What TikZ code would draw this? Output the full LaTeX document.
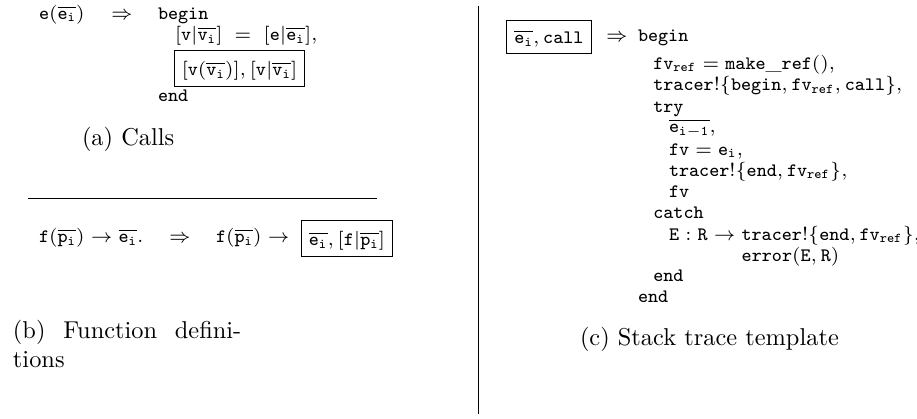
\documentclass[tikz,border=0pt]{standalone}
\tikzset{
  x=0.369pt,y=-0.369pt,
  code/.style={anchor=base west,inner sep=0pt,outer sep=0pt,font=\fontsize{7}{8}\selectfont},
  capt/.style={anchor=base west,inner sep=0pt,outer sep=0pt,font=\fontsize{10}{12}\selectfont},
  boxed/.style={draw,line width=0.37pt,inner sep=0pt,outer sep=0pt,font=\fontsize{7}{8}\selectfont,text depth=0pt},
  rulel/.style={line width=0.37pt}
}
\newcommand{\ov}[1]{\overline{\mathtt{#1}_{\mathtt{i}}}}
\newcommand{\capscale}[1]{\scalebox{0.9}{#1}}
\begin{document}
\begin{tikzpicture}
\useasboundingbox (0,0) rectangle (917,418);
% (a)
\node[code] (a1) at (39,19) {$\mathtt{e}(\ov{e})$};
\node[code] (a2) at (111,19) {$\Rightarrow$};
\node[code] (a3) at (158,19) {$\mathtt{begin}$};
\node[code] (a4) at (175,40.5) {$[\mathtt{v}|\ov{v}]\;=\;[\mathtt{e}|\ov{e}],$};
\node[boxed,minimum width=47.97pt,minimum height=13.28pt] (a5) at (239.5,68.5) {$[\mathtt{v}(\ov{v})],[\mathtt{v}|\ov{v}]$};
\node[code] (a6) at (158,101.5) {$\mathtt{end}$};
\node[capt] (a7) at (82,145) {\capscale{(a) Calls}};
\node[inner sep=0pt] (r1) at (26,198.5) {};
\node[inner sep=0pt] (r2) at (379,198.5) {};
\draw[rulel] (r1) -- (r2);
% (b)
\node[code] (b1) at (39,242.7) {$\mathtt{f}(\ov{p})\rightarrow\ov{e}.$};
\node[code] (b2) at (169,242.7) {$\Rightarrow$};
\node[code] (b3) at (216,242.7) {$\mathtt{f}(\ov{p})\rightarrow$};
\node[boxed,minimum width=33.58pt,minimum height=13.28pt] (b4) at (347,238.5) {$\ov{e},[\mathtt{f}|\ov{p}]$};
\node[capt] (b5) at (13,338) {\capscale{\makebox[93.6pt][s]{(b) Function defini-}}};
\node[capt] (b6) at (13,367) {\capscale{tions}};
% divider
\node[inner sep=0pt] (d1) at (478.5,4) {};
\node[inner sep=0pt] (d2) at (478.5,416) {};
\draw[rulel] (d1) -- (d2);
% (c)
\node[boxed,minimum width=31.37pt,minimum height=12.18pt] (c1) at (549,37) {$\ov{e},\mathtt{call}$};
\node[code] (c2) at (606,41.7) {$\Rightarrow$};
\node[code] (c3) at (638,41.7) {$\mathtt{begin}$};
\node[code] (c4) at (653.3,69) {$\mathtt{fv}_{\mathtt{ref}}=\mathtt{make}\_\mathtt{ref}()$,};
\node[code] (c5) at (653.3,90.5) {$\mathtt{tracer!}\{\mathtt{begin},\mathtt{fv}_{\mathtt{ref}},\mathtt{call}\}$,};
\node[code] (c6) at (653.3,112) {$\mathtt{try}$};
\node[code] (c7) at (669,132.5) {$\overline{\mathtt{e}_{\mathtt{i-1}}}$,};
\node[code] (c8) at (669,155) {$\mathtt{fv}=\mathtt{e}_{\mathtt{i}}$,};
\node[code] (c9) at (669,176) {$\mathtt{tracer!}\{\mathtt{end},\mathtt{fv}_{\mathtt{ref}}\}$,};
\node[code] (c10) at (669,197) {$\mathtt{fv}$};
\node[code] (c11) at (653.3,218) {$\mathtt{catch}$};
\node[code] (c12) at (669,240) {$\mathtt{E}:\mathtt{R}\rightarrow\mathtt{tracer!}\{\mathtt{end},\mathtt{fv}_{\mathtt{ref}}\}$,};
\node[code] (c13) at (741.7,261) {$\mathtt{error}(\mathtt{E},\mathtt{R})$};
\node[code] (c14) at (653.3,281.7) {$\mathtt{end}$};
\node[code] (c15) at (638,302.7) {$\mathtt{end}$};
\node[capt] (c16) at (580,345) {\capscale{(c) Stack trace template}};
\end{tikzpicture}
\end{document}
